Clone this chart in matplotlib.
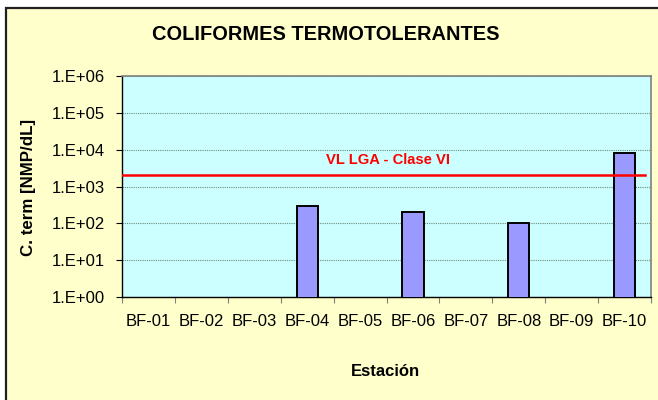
import numpy as np
import matplotlib.pyplot as plt
from matplotlib.patches import Rectangle
from matplotlib.ticker import FixedLocator, FuncFormatter, NullFormatter

plt.rcParams['font.family'] = ['Liberation Sans', 'DejaVu Sans']

estaciones = ['BF-01', 'BF-02', 'BF-03', 'BF-04', 'BF-05',
              'BF-06', 'BF-07', 'BF-08', 'BF-09', 'BF-10']
coliformes = [np.nan, np.nan, np.nan, 300, np.nan, 200, np.nan, 100, np.nan, 8000]
limite_vl = 2000
limite_txt = 'VL LGA - Clase VI'

fig = plt.figure(figsize=(6.58, 4.0), dpi=100)
fig.patch.set_facecolor('white')
# chart area frame (right and bottom edges run off the picture)
fig.patches.append(Rectangle((6/658, -0.05), 1.0, 1 - 8/400 + 0.05,
                             transform=fig.transFigure, facecolor='#FFFFCC',
                             edgecolor='#202020', linewidth=1.6, zorder=-10))

ax = fig.add_axes([122/658, 1 - 297/400, (651 - 122)/658, (297 - 76)/400])
ax.set_facecolor('#CCFFFF')

x = np.arange(len(estaciones))
ax.bar(x, coliformes, width=0.4, color='#9999FF', edgecolor='black',
       linewidth=1.4, zorder=3)
ax.axhline(limite_vl, xmin=0, xmax=0.988, color='#FF0000', linewidth=1.8, zorder=4)
ax.text(4.53, 5200, limite_txt, color='#FF0000', fontsize=10.6,
        fontweight='bold', ha='center', va='center', zorder=5)

ax.set_yscale('log')
ax.set_ylim(1, 1e6)
ax.set_xlim(-0.5, len(estaciones) - 0.5)
ax.yaxis.set_major_locator(FixedLocator([10.0**k for k in range(7)]))
ax.yaxis.set_minor_formatter(NullFormatter())
ax.yaxis.set_minor_locator(FixedLocator([]))
ax.yaxis.set_major_formatter(FuncFormatter(lambda v, p: f'{v:.0E}'.replace('E', '.E')))
ax.grid(axis='y', which='major', linestyle=(0, (1, 1)), color='#6E8A7A',
        linewidth=0.8, zorder=1)

ax.xaxis.set_major_locator(FixedLocator(np.arange(-0.5, len(estaciones), 1.0)))
ax.xaxis.set_major_formatter(NullFormatter())
ax.xaxis.set_minor_locator(FixedLocator(x))
ax.set_xticklabels(estaciones, minor=True)
ax.tick_params(axis='x', which='minor', length=0, pad=12, labelsize=12)
ax.tick_params(axis='x', which='major', length=4, color='#808080', direction='out')
ax.tick_params(axis='y', which='major', length=4, direction='out', pad=8, labelsize=12)

for s in ['top', 'right']:
    ax.spines[s].set_color('#808080')
    ax.spines[s].set_linewidth(1.2)
for s in ['left', 'bottom']:
    ax.spines[s].set_color('black')
    ax.spines[s].set_linewidth(1.0)

fig.text(326/658, 1 - 35/400, 'COLIFORMES TERMOTOLERANTES', fontsize=14.4,
         fontweight='bold', ha='center', va='center')
fig.text(29/658, 1 - 187/400, 'C. term [NMP/dL]', fontsize=12.2, fontweight='bold',
         rotation=90, ha='center', va='center')
fig.text(385/658, 1 - 372/400, 'Estación', fontsize=12, fontweight='bold',
         ha='center', va='center')

fig.savefig('out.png', dpi=100)
